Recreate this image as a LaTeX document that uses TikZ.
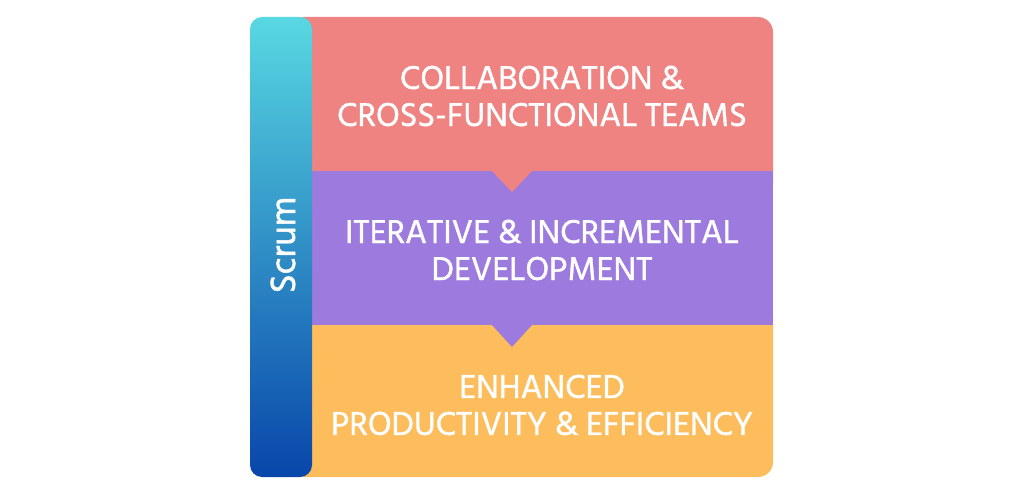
\documentclass[tikz,border=0pt]{standalone}
\usepackage{fontspec}
\setmainfont{Hind Siliguri}
\newfontfamily\labelfont[FakeBold=1.2]{Hind Siliguri}
\definecolor{collabred}{RGB}{239,131,130}
\definecolor{iterpurple}{RGB}{156,122,222}
\definecolor{prodorange}{RGB}{254,189,92}
\definecolor{scrumtop}{RGB}{88,216,226}
\definecolor{scrummid}{RGB}{38,142,204}
\definecolor{scrumbot}{RGB}{8,70,170}
\tikzset{
  bandtext/.style={text=white,align=center,font=\labelfont\fontsize{33.8}{37}\selectfont},
  bartext/.style={text=white,rotate=90,font=\labelfont\fontsize{36}{38}\selectfont}
}
\begin{document}
\begin{tikzpicture}[x=1pt,y=-1pt]
    \useasboundingbox (0,0) rectangle (1024,494);
    %\draw[ultra thin,gray!20] (0,0) grid[step=50] (1024,494);
    % bands
    \fill[collabred,rounded corners=15] (290,17) rectangle (773,200);
    \fill[prodorange,rounded corners=15] (290,300) rectangle (773,477);
    \fill[iterpurple] (290,171) rectangle (773,325);
    \fill[iterpurple] (492,325) -- (532,325) -- (512,347) -- cycle;
    \fill[collabred] (492,171) -- (532,171) -- (512,192) -- cycle;
    % scrum bar
    \shade[rounded corners=12,top color=scrumtop,middle color=scrummid,bottom color=scrumbot] (250,17) rectangle (312,477);
    % labels
    \node[bandtext] (collab) at (542,96) {COLLABORATION \&\\CROSS-FUNCTIONAL TEAMS};
    \node[bandtext] (iter) at (542,250) {ITERATIVE \& INCREMENTAL\\DEVELOPMENT};
    \node[bandtext] (prod) at (542,405) {ENHANCED\\PRODUCTIVITY \& EFFICIENCY};
    \node[bartext] (scrum) at (283,245) {Scrum};
\end{tikzpicture}
\end{document}
